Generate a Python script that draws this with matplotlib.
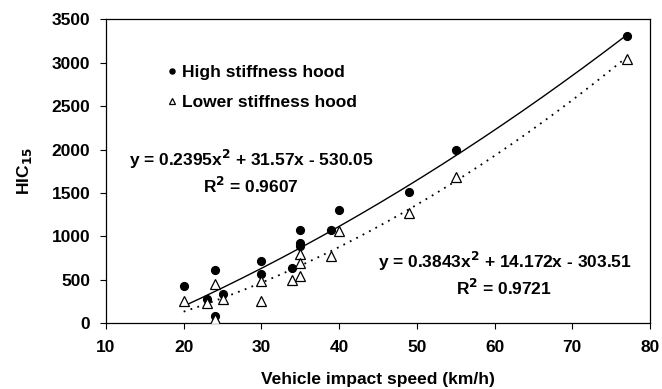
import numpy as np
import matplotlib
matplotlib.use("Agg")
import matplotlib.pyplot as plt

plt.rcParams["font.family"] = ["Liberation Sans", "DejaVu Sans"]
plt.rcParams["font.weight"] = "bold"

# Measured HIC15 values by vehicle impact speed (km/h)
high_speed = [20, 23, 24, 24, 25, 30, 30, 34, 35, 35, 35, 39, 40, 49, 55, 77]
high_hic = [430, 285, 610, 80, 335, 720, 565, 635, 1080, 930, 890, 1080, 1310, 1510, 2000, 3310]

low_speed = [20, 23, 24, 24, 25, 30, 30, 34, 35, 35, 35, 39, 40, 49, 55, 77]
low_hic = [255, 230, 450, 45, 280, 490, 255, 500, 800, 690, 545, 770, 1065, 1270, 1680, 3050]

# Quadratic trend lines (coefficients a, b, c for a*x^2 + b*x + c)
high_fit = [0.2395, 31.57, -530.05]
high_r2 = 0.9607
low_fit = [0.3843, 14.172, -303.51]
low_r2 = 0.9721

x_ticks = [10, 20, 30, 40, 50, 60, 70, 80]
y_ticks = [0, 500, 1000, 1500, 2000, 2500, 3000, 3500]

FS = 12.5
W, H = 662, 389

fig = plt.figure(figsize=(W / 100, H / 100), dpi=100)
ax = fig.add_axes([0.160, 0.169, 0.822, 0.781])

xs = np.linspace(20, 77, 200)
ax.plot(xs, np.polyval(high_fit, xs), color="black", lw=1.0, zorder=2)
ax.plot(xs, np.polyval(low_fit, xs), color="black", lw=1.3,
        linestyle=(0, (1, 3)), zorder=2)

ax.plot(high_speed, high_hic, linestyle="none", marker="o", ms=5.6,
        color="black", label="High stiffness hood", zorder=3)
ax.plot(low_speed, low_hic, linestyle="none", marker="^", ms=6.5,
        mfc="white", mec="black", mew=0.9, label="Lower stiffness hood", zorder=4)

ax.set_xlim(10, 80)
ax.set_ylim(0, 3500)
ax.set_xticks(x_ticks)
ax.set_yticks(y_ticks)
ax.tick_params(axis="both", direction="out", length=4.3, width=0.8,
               labelsize=FS)
ax.tick_params(axis="y", pad=7)
ax.tick_params(axis="x", pad=8)
for lbl in ax.get_xticklabels() + ax.get_yticklabels():
    lbl.set_fontweight("bold")
for sp in ax.spines.values():
    sp.set_linewidth(0.9)

ax.set_xlabel("Vehicle impact speed (km/h)", fontsize=FS, fontweight="bold", labelpad=12)
ax.set_ylabel("HIC$_{\\mathbf{15}}$", fontsize=FS, fontweight="bold", labelpad=12.5)

leg = fig.legend(loc="upper left", bbox_to_anchor=(158 / W, 1 - 56 / H),
                 bbox_transform=fig.transFigure, frameon=False,
                 fontsize=FS, handlelength=0.6, handletextpad=0.3,
                 labelspacing=0.85, markerscale=0.65, borderpad=0)
for t in leg.get_texts():
    t.set_fontweight("bold")


def eq_text(c):
    a, b, k = c
    sign = "-" if k < 0 else "+"
    return f"y = {a}x$^{{\\mathbf{{2}}}}$ + {b}x {sign} {abs(k):.2f}"


ax.annotate(eq_text(high_fit), xy=(251, H - 159), xycoords="figure pixels",
            ha="center", va="center", fontsize=FS, fontweight="bold")
ax.annotate(f"R$^{{\\mathbf{{2}}}}$ = {high_r2:.4f}", xy=(251, H - 186),
            xycoords="figure pixels", ha="center", va="center",
            fontsize=FS, fontweight="bold")
ax.annotate(eq_text(low_fit), xy=(505, H - 261), xycoords="figure pixels",
            ha="center", va="center", fontsize=FS, fontweight="bold")
ax.annotate(f"R$^{{\\mathbf{{2}}}}$ = {low_r2:.4f}", xy=(504, H - 288),
            xycoords="figure pixels", ha="center", va="center",
            fontsize=FS, fontweight="bold")

fig.savefig("out.png", dpi=100)
